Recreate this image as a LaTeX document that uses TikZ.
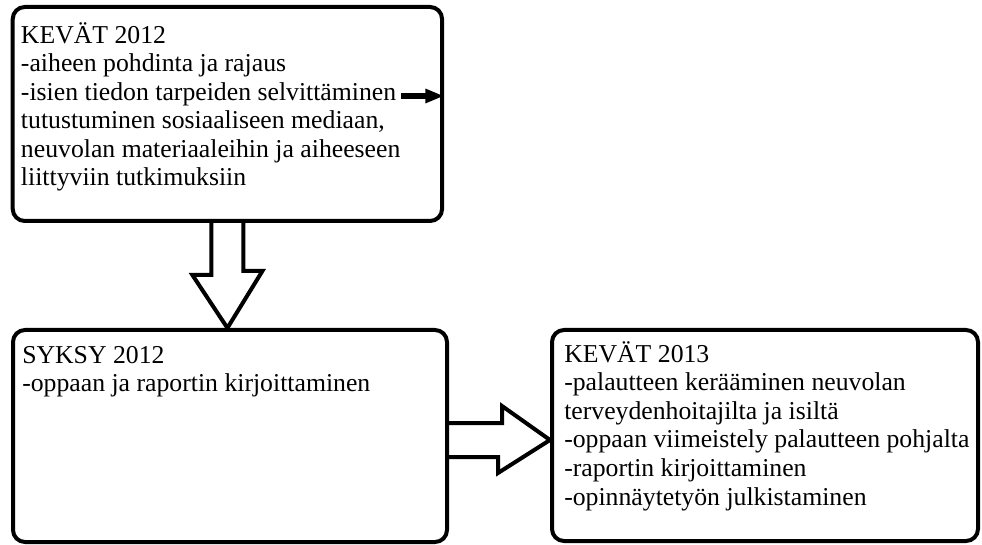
\documentclass[tikz,border=0pt]{standalone}
\usepackage{fontspec}
\setmainfont{Liberation Serif}
\usetikzlibrary{calc,arrows.meta,backgrounds}

\begin{document}
\begin{tikzpicture}[x=0.75pt,y=-0.75pt,
  laatikko/.style={draw,line width=3pt,rounded corners=9pt,fill=white,inner sep=0pt},
  teksti/.style={anchor=base west,align=left,inner sep=0pt,font=\fontsize{19.3}{21.4}\selectfont},
  isonuoli/.style={draw,line width=3pt,fill=white,line join=miter},
  pieninuoli/.style={line width=4.5pt,-{Triangle[length=14pt,width=10pt]}}]
\useasboundingbox (0,0) rectangle (982,545);
% laatikot
\node[laatikko,minimum width=322pt,minimum height=160.5pt] (kevat12) at (227.4,114) {};
\node[laatikko,minimum width=325.5pt,minimum height=159pt] (syksy12) at (230,436) {};
\node[laatikko,minimum width=319.5pt,minimum height=158.25pt] (kevat13) at (765,435.5) {};
% tekstit (base = viimeisen rivin perusviiva)
\node[teksti] (t1) at ($(kevat12.north west)+(10,180.7)$) {KEVÄT 2012\\
  -aiheen pohdinta ja rajaus\\
  -isien tiedon tarpeiden selvittäminen\\
  tutustuminen sosiaaliseen mediaan,\\
  neuvolan materiaaleihin ja aiheeseen\\
  liittyviin tutkimuksiin};
\node[teksti] (t2) at ($(syksy12.north west)+(11,64)$) {SYKSY 2012\\
  -oppaan ja raportin kirjoittaminen};
\node[teksti] (t3) at ($(kevat13.north west)+(14,177)$) {KEVÄT 2013\\
  -palautteen kerääminen neuvolan\\
  terveydenhoitajilta ja isiltä\\
  -oppaan viimeistely palautteen pohjalta\\
  -raportin kirjoittaminen\\
  -opinnäytetyön julkistaminen};
% nuolet
\coordinate (pieni) at (401,96);
\draw[pieninuoli] (pieni) -- (pieni -| kevat12.east);
\begin{scope}[on background layer]
\coordinate (alaKarki) at (kevat12.south |- syksy12.north);
\draw[isonuoli] ($(kevat12.south)+(-16,0)$) -- ++(0,52) -- ++(-19,0) -- (alaKarki)
  -- ++(35,-57) -- ++(-19,0) -- ($(kevat12.south)+(16,0)$);
\coordinate (oikeaKarki) at ($(kevat13.west)+(0,4.5)$);
\draw[isonuoli] ($(syksy12.east)+(0,-13)$) -- ++(53,0) -- ++(0,-17) -- (oikeaKarki)
  -- ++(-52,33) -- ++(0,-16) -- ($(syksy12.east)+(0,21)$);
\end{scope}
\end{tikzpicture}
\end{document}
